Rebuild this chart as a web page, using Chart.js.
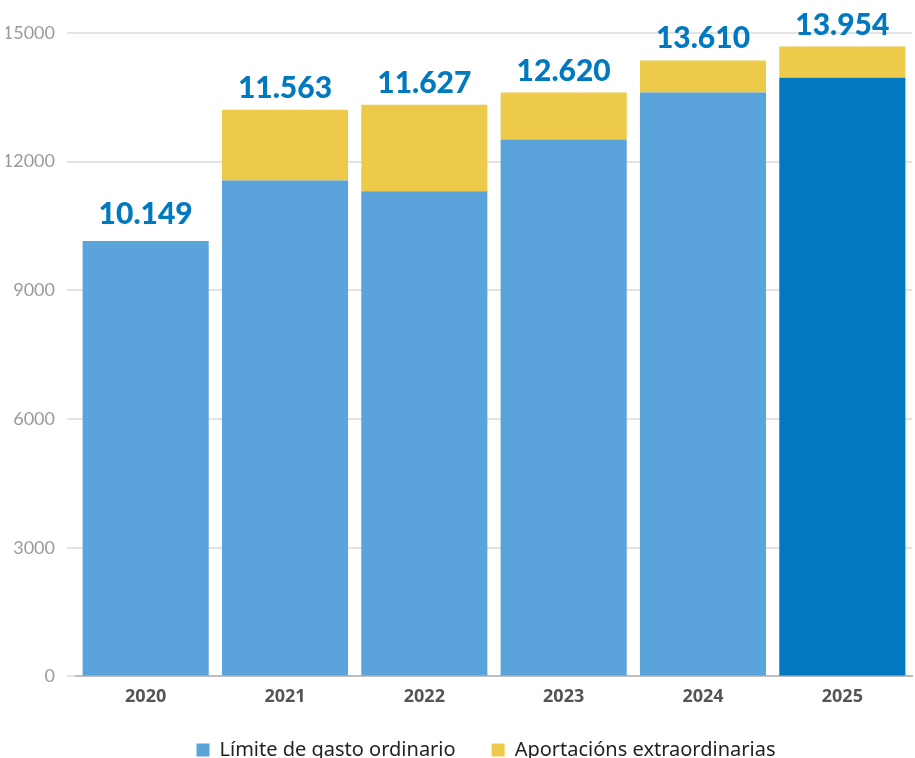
<!DOCTYPE html>
<html>
<head>
<meta charset="utf-8">
<script src="https://cdn.jsdelivr.net/npm/chart.js@4/dist/chart.umd.min.js"></script>
<style>
  html, body { margin: 0; padding: 0; background: #fff; overflow: hidden; }
  #wrap { position: relative; width: 915px; height: 784px; }
</style>
</head>
<body>
<div id="wrap"><canvas id="chart"></canvas></div>
<script>
// datos
const years = ['2020', '2021', '2022', '2023', '2024', '2025'];
const limiteGasto = [10149, 11563, 11310, 12520, 13610, 13954];
const aportaciones = [0, 1650, 2020, 1090, 750, 730];
const etiquetas = ['10.149', '11.563', '11.627', '12.620', '13.610', '13.954'];
const yTicks = [0, 3000, 6000, 9000, 12000, 15000];

const colors = {
    blue: '#5AA3DB',
    darkBlue: '#0079C1',
    yellow: '#EECA4B',
    grid: '#E3E3E3',
    tick: '#9A9A9A',
    xTick: '#555555'
};

// etiquetas encima de cada columna
const totalLabels = {
    id: 'totalLabels',
    afterDatasetsDraw(chart) {
        const ctx = chart.ctx;
        const yScale = chart.scales.y;
        const meta = chart.getDatasetMeta(0);
        ctx.save();
        ctx.font = '900 30px Lato, sans-serif';
        ctx.fillStyle = colors.darkBlue;
        ctx.textAlign = 'center';
        ctx.textBaseline = 'alphabetic';
        meta.data.forEach((bar, i) => {
            const top = yScale.getPixelForValue(limiteGasto[i] + aportaciones[i]);
            ctx.fillText(etiquetas[i], bar.x, top - (i === 0 ? 17 : 12));
        });
        ctx.restore();
    }
};

// leyenda centrada sobre el área del gráfico y un poco más arriba
const legendShift = {
    id: 'legendShift',
    afterLayout(chart) {
        chart.legend.left = chart.chartArea.left - 8;
        chart.legend.right = chart.chartArea.right - 8;
        chart.legend.top -= 14;
        chart.legend.bottom -= 14;
    }
};

new Chart(document.getElementById('chart'), {
    type: 'bar',
    data: {
        labels: years,
        datasets: [{
            label: 'Límite de gasto ordinario',
            data: limiteGasto,
            backgroundColor: c => (c.type === 'data' && c.dataIndex < 5) ? colors.blue : colors.darkBlue,
            borderWidth: 0
        }, {
            label: 'Aportacións extraordinarias',
            data: aportaciones,
            backgroundColor: colors.yellow,
            borderWidth: 0
        }]
    },
    options: {
        responsive: true,
        maintainAspectRatio: false,
        animation: false,
        layout: { padding: { top: 33, right: 3, left: 6, bottom: 0 } },
        datasets: { bar: { categoryPercentage: 1, barPercentage: 0.905 } },
        scales: {
            x: {
                stacked: true,
                grid: { display: false, drawTicks: false },
                border: { display: true, color: '#BDBDBD', width: 2 },
                ticks: {
                    padding: 10,
                    color: colors.xTick,
                    font: { family: 'Open Sans', size: 18, weight: 'bold' }
                }
            },
            y: {
                stacked: true,
                min: 0,
                max: 15000,
                afterBuildTicks: axis => { axis.ticks = yTicks.map(v => ({ value: v })); },
                afterFit: axis => { axis.width = 70; },
                grid: { color: colors.grid, lineWidth: 2, tickLength: 9 },
                border: { display: false },
                ticks: {
                    padding: 12,
                    color: colors.tick,
                    font: { family: 'Lato', size: 18 },
                    callback: v => String(v)
                }
            }
        },
        plugins: {
            legend: {
                position: 'bottom',
                labels: {
                    boxWidth: 13,
                    boxHeight: 13,
                    padding: 36,
                    color: '#222',
                    font: { family: 'Noto Sans', size: 20 }
                }
            },
            tooltip: { enabled: false }
        }
    },
    plugins: [totalLabels, legendShift]
});
</script>
</body>
</html>
